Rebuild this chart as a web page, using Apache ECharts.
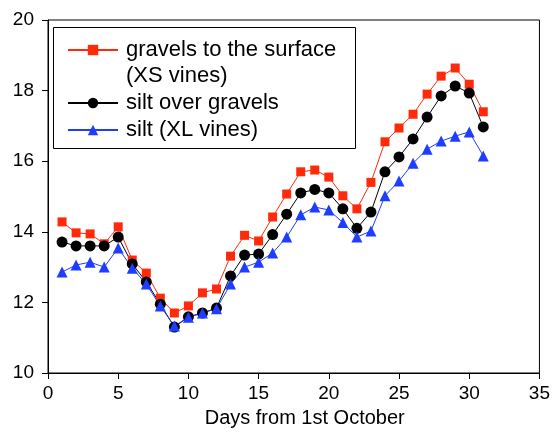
<!DOCTYPE html>
<html>
<head>
<meta charset="utf-8">
<script src="https://cdn.jsdelivr.net/npm/echarts@6/dist/echarts.min.js"></script>
<style>
html,body{margin:0;padding:0;background:#fff;}
#chart{width:553px;height:435px;}
</style>
</head>
<body>
<div id="chart"></div>
<script>
const days = [1,2,3,4,5,6,7,8,9,10,11,12,13,14,15,16,17,18,19,20,21,22,23,24,25,26,27,28,29,30,31];
const gravelsSurface = [14.28,13.97,13.94,13.66,14.14,13.2,12.83,12.12,11.7,11.9,12.27,12.38,13.31,13.9,13.74,14.42,15.07,15.7,15.75,15.55,15.02,14.65,15.4,16.55,16.94,17.33,17.9,18.41,18.64,18.18,17.4];
const siltOverGravels = [13.71,13.6,13.6,13.6,13.85,13.09,12.58,11.95,11.3,11.59,11.7,11.84,12.75,13.34,13.37,13.92,14.5,15.1,15.2,15.1,14.65,14.1,14.56,15.7,16.12,16.63,17.25,17.85,18.13,17.93,16.97];
const siltXL = [12.86,13.06,13.14,13.0,13.54,12.97,12.52,11.9,11.33,11.58,11.7,11.82,12.52,13.0,13.14,13.4,13.85,14.48,14.7,14.62,14.26,13.85,14.02,15.02,15.44,15.94,16.34,16.57,16.71,16.83,16.15];
const seriesNames = ['gravels to the surface\n(XS vines)', 'silt over gravels', 'silt (XL vines)'];
const xTicks = [0,5,10,15,20,25,30,35];
const yTicks = [10,12,14,16,18,20];
const xTitle = 'Days from 1st October';

const pair = (vals) => days.map((d, i) => [d, vals[i]]);
const FONT = '"Liberation Sans", Arial, sans-serif';

const chart = echarts.init(document.getElementById('chart'), null, {renderer: 'canvas'});
chart.setOption({
  animation: false,
  backgroundColor: '#fff',
  grid: {left: 48, right: 10, top: 20, bottom: 62, show: true, borderColor: '#000', borderWidth: 1, backgroundColor: 'transparent'},
  xAxis: {
    type: 'value', min: xTicks[0], max: xTicks[xTicks.length - 1], interval: 5,
    name: xTitle, nameLocation: 'middle', nameGap: 35,
    nameTextStyle: {fontFamily: FONT, fontSize: 20, color: '#000', padding: [0, 0, 0, 22]},
    axisLine: {show: true, onZero: false, lineStyle: {color: '#000', width: 1}},
    axisTick: {show: true, inside: false, length: 6, lineStyle: {color: '#000'}},
    axisLabel: {fontFamily: FONT, fontSize: 19, color: '#000', margin: 11},
    splitLine: {show: false}
  },
  yAxis: {
    type: 'value', min: yTicks[0], max: yTicks[yTicks.length - 1], interval: 2,
    axisLine: {show: true, lineStyle: {color: '#000', width: 1}},
    axisTick: {show: true, inside: false, length: 6, lineStyle: {color: '#000'}},
    axisLabel: {fontFamily: FONT, fontSize: 19, color: '#000', margin: 14},
    splitLine: {show: false}
  },
  graphic: [{
    type: 'rect', left: 53, top: 27, z: 5,
    shape: {width: 302, height: 121},
    style: {fill: '#fff', stroke: '#000', lineWidth: 1}
  }],
  legend: {
    orient: 'vertical', left: 62, top: 6, z: 10,
    itemWidth: 50, itemHeight: 13, itemGap: 1,
    data: seriesNames,
    formatter: (name) => name === seriesNames[0] ? ' \n' + name : name,
    textStyle: {fontFamily: FONT, fontSize: 22, color: '#000', lineHeight: 26, padding: [0, 0, 0, 3]}
  },
  series: [
    {name: seriesNames[0], type: 'line', data: pair(gravelsSurface), symbol: 'rect', symbolSize: 9,
     lineStyle: {color: '#ff2a0a', width: 1}, itemStyle: {color: '#ff2a0a'}},
    {name: seriesNames[1], type: 'line', data: pair(siltOverGravels), symbol: 'circle', symbolSize: 11,
     lineStyle: {color: '#000', width: 1}, itemStyle: {color: '#000'}},
    {name: seriesNames[2], type: 'line', data: pair(siltXL), symbol: 'triangle', symbolSize: 11,
     lineStyle: {color: '#1f3dff', width: 1}, itemStyle: {color: '#1f3dff'}}
  ]
});
</script>
</body>
</html>
